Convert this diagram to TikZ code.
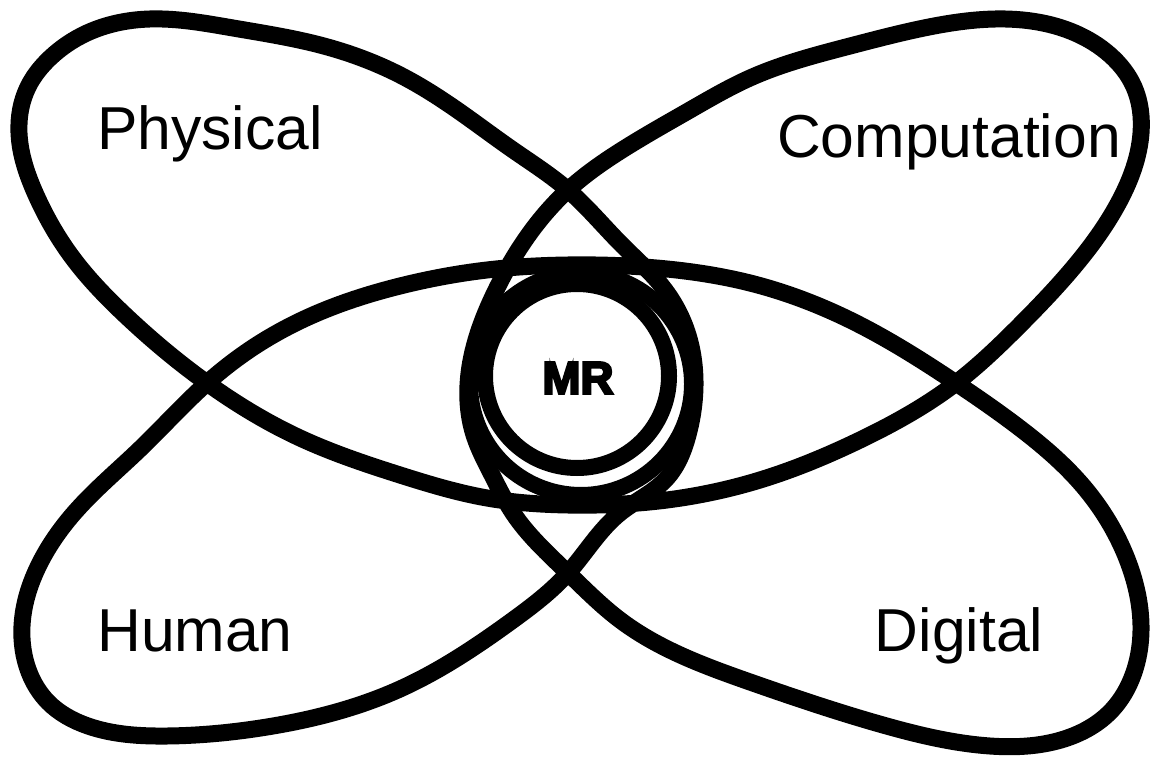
\documentclass[tikz,border=0pt]{standalone}
\usepackage{fontspec}
\setmainfont{Liberation Sans}
\newfontfamily\mrfont{Liberation Sans}[BoldFeatures={FakeBold=5}]
\usetikzlibrary{hobby}

\begin{document}
\begin{tikzpicture}[x=0.02cm, y=0.02cm,
  every node/.style={font=\fontsize{34.5}{40}\selectfont},
  outline/.style={line width=0.34cm, line join=round},
  ring/.style={line width=0.32cm}]
  \useasboundingbox (0,0) rectangle (1151,-759);
  % Four loops drawn as one closed stroke
  \draw[outline, use Hobby shortcut, closed=true]
    (568,-190) .. (513,-150) .. (460,-112) .. (400,-75) .. (320,-45) .. (233,-28)
    .. (150,-19) .. (87,-33) .. (50,-58) .. (28,-87) .. (19,-133) .. (36,-195)
    .. (72,-257) .. (125,-315) .. (207,-383)
    .. (300,-438) .. (400,-475) .. (487,-498) .. (568,-505) .. (667,-500)
    .. (760,-480) .. (860,-440) .. (956,-383)
    .. (1020,-325) .. (1078,-262) .. (1120,-200) .. (1141,-133)
    .. (1134,-87) .. (1110,-55) .. (1075,-33) .. (1005,-19) .. (929,-27)
    .. (850,-46) .. (750,-78) .. (690,-110) .. (622,-150) .. (568,-190)
    .. (525,-240) .. (496,-290) .. (476,-340) .. (468,-385) .. (474,-435)
    .. (492,-475) .. (513,-513) .. (568,-573)
    .. (620,-620) .. (750,-682) .. (883,-725) .. (990,-746) .. (1070,-737)
    .. (1112,-710) .. (1133,-675) .. (1141,-626) .. (1127,-559) .. (1083,-486)
    .. (1017,-426) .. (956,-383)
    .. (850,-320) .. (750,-283) .. (667,-269) .. (568,-265) .. (487,-270)
    .. (400,-286) .. (320,-312) .. (260,-343) .. (207,-383)
    .. (140,-449) .. (75,-512) .. (42,-559) .. (22,-626) .. (29,-672)
    .. (48,-702) .. (88,-726) .. (167,-736) .. (267,-727) .. (400,-689)
    .. (513,-620) .. (568,-573)
    .. (620,-513) .. (667,-478) .. (688,-435) .. (695,-385) .. (688,-335)
    .. (665,-290) .. (622,-245);
  % Centre rings
  \draw[ring] (581,-384) circle[radius=111];
  \draw[ring] (577,-376) circle[radius=92];
  % Labels
  \node[anchor=base] (physical) at (210,-150) {Physical};
  \node[anchor=base] (computation) at (949,-158) {Computation};
  \node[anchor=base] (human) at (195,-651) {Human};
  \node[anchor=base] (digital) at (959,-651) {Digital};
  \node[font=\mrfont\bfseries\fontsize{26}{30}\selectfont] (mr) at (578,-378) {MR};
\end{tikzpicture}
\end{document}
